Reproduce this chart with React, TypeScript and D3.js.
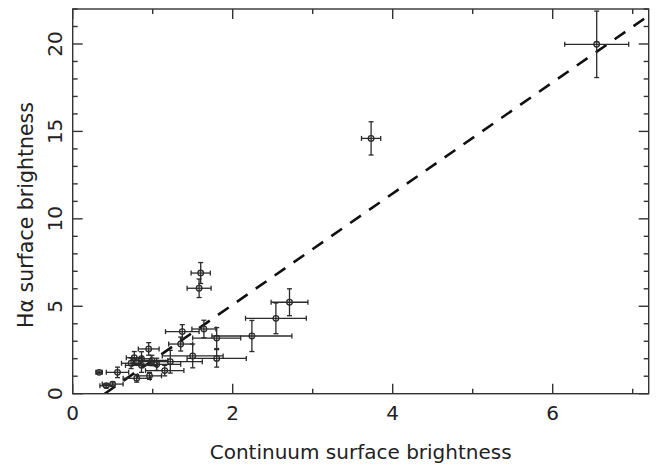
import React from "react";
import * as d3 from "d3";

const xVals = [0.33, 0.42, 0.50, 0.56, 0.80, 0.96, 1.15, 0.73, 0.77, 0.86, 0.86, 0.95, 0.99, 1.05, 1.22, 1.50, 1.80, 1.35, 1.37, 1.64, 1.80, 2.24, 2.54, 2.71, 1.58, 1.60, 3.73, 6.55];
const yVals = [1.22, 0.46, 0.55, 1.22, 0.88, 1.02, 1.32, 1.74, 2.06, 1.62, 2.00, 2.56, 1.90, 1.68, 1.83, 2.16, 2.02, 2.84, 3.55, 3.70, 3.18, 3.30, 4.31, 5.23, 6.03, 6.90, 14.6, 19.98];
const xErr = [0.04, 0.08, 0.13, 0.14, 0.17, 0.15, 0.24, 0.12, 0.10, 0.20, 0.12, 0.13, 0.20, 0.30, 0.40, 0.38, 0.37, 0.15, 0.21, 0.15, 0.30, 0.50, 0.38, 0.23, 0.15, 0.12, 0.12, 0.40];
const yErr = [0.08, 0.10, 0.12, 0.30, 0.22, 0.20, 0.30, 0.30, 0.35, 0.40, 0.40, 0.36, 0.30, 0.35, 0.65, 0.68, 0.50, 0.40, 0.40, 0.50, 0.60, 0.89, 0.88, 0.77, 0.53, 0.60, 0.95, 1.90];

const xTicks = [0, 2, 4, 6];
const yTicks = [0, 5, 10, 15, 20];
const xDomain = [0, 7.2];
const yDomain = [0, 22];
const fitSlope = 3.18;
const fitX0 = 0.4;
const xLabel = "Continuum surface brightness";
const yLabel = "Hα surface brightness";

export default function App() {
  const W = 659, H = 466;
  const L = 72.7, R = 648.7, T = 9, B = 393.7;
  const x = d3.scaleLinear().domain(xDomain).range([L, R]);
  const y = d3.scaleLinear().domain(yDomain).range([B, T]);
  const ink = "#2a2a2a";
  const font = "'DejaVu Sans', sans-serif";

  const xMinor = d3.range(0, 7.21, 1).filter((v) => !xTicks.includes(v));
  const yMinor = d3.range(0, 22.01, 1).filter((v) => !yTicks.includes(v));

  const fitLine = d3.line<number>()
    .x((v) => x(v))
    .y((v) => y(fitSlope * (v - fitX0)));
  const fitPts = [fitX0, xDomain[1]];

  const cap = 2.5;
  const data = xVals.map((v, i) => ({ x: v, y: yVals[i], ex: xErr[i], ey: yErr[i] }));

  return (
    <svg width={W} height={H} style={{ position: "absolute", left: 0, top: 0 }} fontFamily={font}>
      <rect x={0} y={0} width={W} height={H} fill="#fff" />
      <defs>
        <clipPath id="plotclip">
          <rect x={L} y={T} width={R - L} height={B - T} />
        </clipPath>
      </defs>
      <path d={fitLine(fitPts) || ""} fill="none" stroke="#111" strokeWidth={2.6} strokeDasharray="13 10" clipPath="url(#plotclip)" />
      <g stroke={ink} strokeWidth={1.3} fill="none">
        {data.map((d, i) => {
          const cx = x(d.x), cy = y(d.y);
          const x1 = x(d.x - d.ex), x2 = x(d.x + d.ex);
          const y1 = y(d.y - d.ey), y2 = y(d.y + d.ey);
          return (
            <g key={i}>
              <line x1={x1} x2={x2} y1={cy} y2={cy} />
              <line x1={x1} x2={x1} y1={cy - cap} y2={cy + cap} />
              <line x1={x2} x2={x2} y1={cy - cap} y2={cy + cap} />
              <line x1={cx} x2={cx} y1={y1} y2={y2} />
              <line x1={cx - cap} x2={cx + cap} y1={y1} y2={y1} />
              <line x1={cx - cap} x2={cx + cap} y1={y2} y2={y2} />
              <circle cx={cx} cy={cy} r={2.8} />
            </g>
          );
        })}
      </g>
      <rect x={L} y={T} width={R - L} height={B - T} fill="none" stroke="#333" strokeWidth={1.4} />
      <g stroke="#333" strokeWidth={1.4}>
        {xTicks.map((v) => (
          <g key={"xt" + v}>
            <line x1={x(v)} x2={x(v)} y1={B} y2={B - 10} />
            <line x1={x(v)} x2={x(v)} y1={T} y2={T + 10} />
          </g>
        ))}
        {xMinor.map((v) => (
          <g key={"xm" + v}>
            <line x1={x(v)} x2={x(v)} y1={B} y2={B - 5} />
            <line x1={x(v)} x2={x(v)} y1={T} y2={T + 5} />
          </g>
        ))}
        {yTicks.map((v) => (
          <g key={"yt" + v}>
            <line x1={L} x2={L + 10} y1={y(v)} y2={y(v)} />
            <line x1={R} x2={R - 10} y1={y(v)} y2={y(v)} />
          </g>
        ))}
        {yMinor.map((v) => (
          <g key={"ym" + v}>
            <line x1={L} x2={L + 5} y1={y(v)} y2={y(v)} />
            <line x1={R} x2={R - 5} y1={y(v)} y2={y(v)} />
          </g>
        ))}
      </g>
      <g fill="#222" fontSize={20}>
        {xTicks.map((v) => (
          <text key={"xl" + v} x={x(v)} y={419.5} textAnchor="middle">{v}</text>
        ))}
        {yTicks.map((v) => (
          <text key={"yl" + v} transform={`translate(62,${y(v)}) rotate(-90)`} textAnchor="middle">{v}</text>
        ))}
      </g>
      <text x={(L + R) / 2} y={459} textAnchor="middle" fontSize={20} fill="#222">{xLabel}</text>
      <text transform={`translate(32.5,215) rotate(-90)`} textAnchor="middle" fontSize={20.5} fill="#222">{yLabel}</text>
    </svg>
  );
}
